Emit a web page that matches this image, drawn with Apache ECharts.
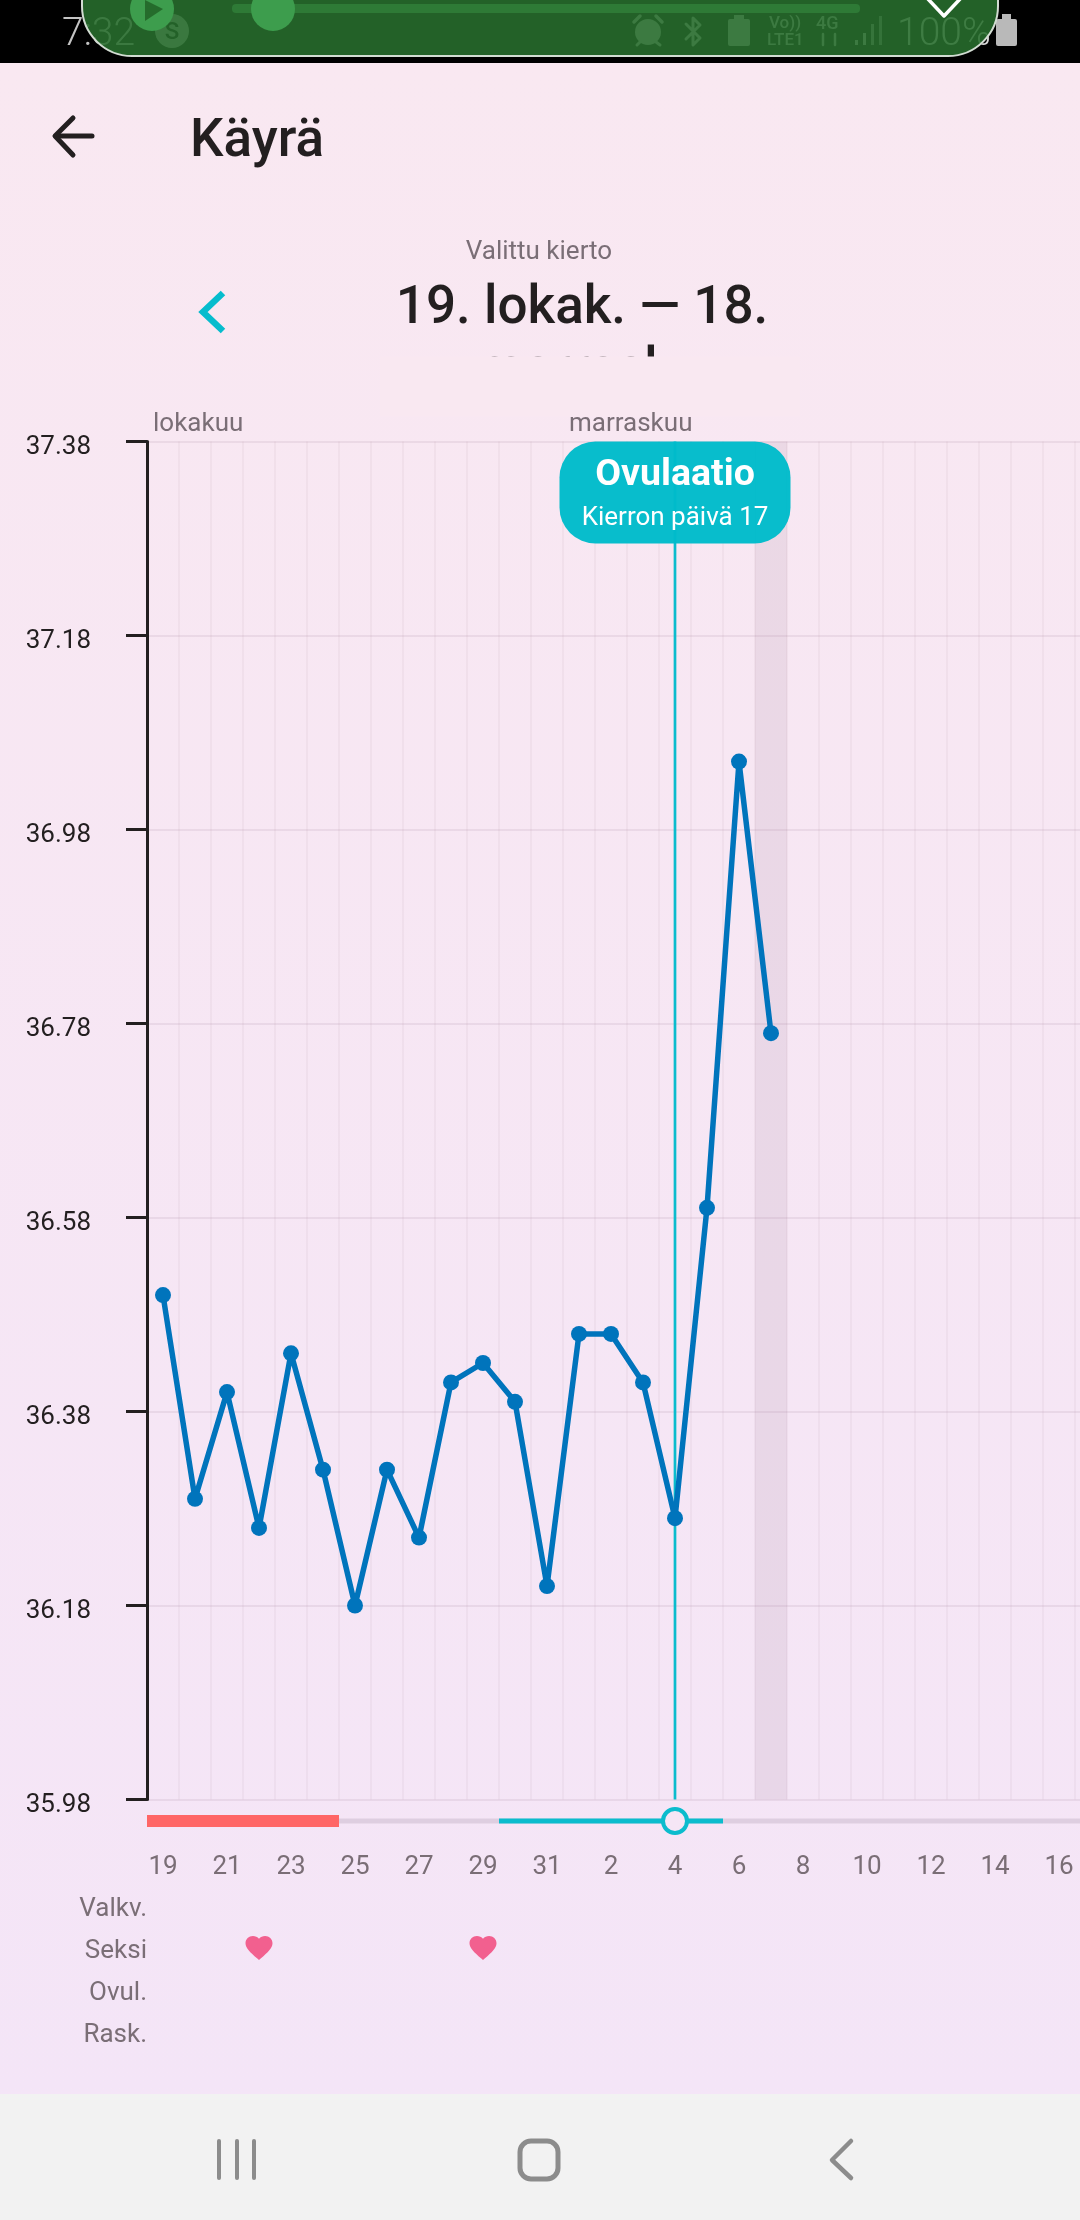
<!DOCTYPE html>
<html>
<head>
<meta charset="utf-8">
<style>
html,body{margin:0;padding:0;width:1080px;height:2220px;overflow:hidden;background:linear-gradient(#f9e8f1 0,#f9e8f1 63px,#f4e5f7 2094px)}
#c{width:1080px;height:2220px}
</style>
<script src="https://cdn.jsdelivr.net/npm/echarts@6/dist/echarts.min.js"></script>
</head>
<body>
<div id="c"></div>
<script>
const categories = ['19','20','21','22','23','24','25','26','27','28','29','30','31','1','2','3','4','5','6','7','8','9','10','11','12','13','14','15','16','17','18'];
const temperature = [36.50,36.29,36.40,36.26,36.44,36.32,36.18,36.32,36.25,36.41,36.43,36.39,36.20,36.46,36.46,36.41,36.27,36.59,37.05,36.77];
const yTicks = [35.98,36.18,36.38,36.58,36.78,36.98,37.18,37.38];
const rowLabels = ['Valkv.','Seksi','Ovul.','Rask.'];
const monthNames = ['lokakuu','marraskuu'];
const monthStarts = [0,13];
const periodDays = [0,1,2,3,4,5];
const fertileDays = [11,12,13,14,15,16,17];
const ovulationDay = 16;
const currentDay = 19;
const sexDays = [3,10];

const FONT = 'Roboto';
const GREY = '#7a6e76';
const INK = '#231f20';
const CYAN = '#0bbccd';
const HEART = 'path://M12 21.35l-1.45-1.32C5.4 15.36 2 12.28 2 8.5 2 5.42 4.42 3 7.5 3c1.74 0 3.41.81 4.5 2.09C13.09 3.81 14.76 3 16.5 3 19.58 3 22 5.42 22 8.5c0 3.78-3.4 6.86-8.55 11.54L12 21.35z';

function T(text,x,y,font,fill,align){return {type:'text',silent:true,style:{text,x,y,font:font+' '+FONT,fill,textAlign:align||'left',textVerticalAlign:'middle'}};}
function P(points,stroke,w,extra){return {type:'polyline',silent:true,shape:{points},style:Object.assign({stroke,lineWidth:w,fill:null,lineCap:'round',lineJoin:'round'},extra||{})};}
function R(x,y,width,height,fill,r,extra){return {type:'rect',silent:true,shape:{x,y,width,height,r:r||0},style:Object.assign({fill},extra||{})};}
function C(cx,cy,r,fill,extra){return {type:'circle',silent:true,shape:{cx,cy,r},style:Object.assign({fill},extra||{})};}

const DIM = '#c8c8c8';
const chrome = [
  R(0,0,1080,63,'#000'),
  T('7:32',62,35,'300 39px','#c4c4c4'),
  C(172,31,17,'#bdbdbd'),
  T('S',172,33,'500 24px','#000','center'),
  C(648,32,13,'#c8c8c8'),
  P([[634,22],[640,16]],DIM,3.5), P([[656,16],[662,22]],DIM,3.5),
  P([[637,45],[640,42]],DIM,3), P([[656,42],[660,45]],DIM,3),
  P([[686,24],[700,38],[693,45],[693,18],[700,25],[686,39]],DIM,3),
  R(728,19,22,27,DIM,2), R(734,15,10,5,DIM),
  T('Vo))',769,24,'500 17px',DIM),
  T('LTE1',767,41,'500 17px',DIM),
  T('4G',816,24,'500 18px',DIM),
  P([[823,34],[823,45]],DIM,2.5), P([[835,34],[835,45]],DIM,2.5),
  R(855,40,3,5,DIM), R(863,33,3,12,DIM), R(871,24,3,21,'#999'), R(879,16,3,29,'#888'),
  T('100%',897,35,'300 39px','#d8d8d8'),
  R(996,19,21,27,'#b9b9b9',2), R(1002,14,9,6,'#b9b9b9'),
  R(82,-60,916,116,'rgba(40,110,45,0.88)',[0,0,50,50],{stroke:'#d2dcd2',lineWidth:2}),
  R(232,4,628,9,'#2e7a36',4),
  C(152,9,22,'#3d9d4d'),
  {type:'polygon',silent:true,shape:{points:[[145,0],[163,9],[145,21]]},style:{fill:'#256c2c'}},
  C(273,9,22,'#3d9d4d'),
  P([[928,-1],[944,16],[960,-1]],'#fff',3.5),
  // header
  P([[56,136],[92,136]],INK,5), P([[73,118],[55,136],[73,155]],INK,5),
  T('Käyrä',190,143,'500 53px',INK),
  T('Valittu kierto',539,252,'400 26px',GREY,'center'),
  T('19. lokak. — 18.',582,310,'500 53px',INK,'center'),
  T('marrask.',582,372,'500 53px',INK,'center'),
  R(380,356.5,420,60,'#f9e8f1'),
  P([[223,293],[203,312],[223,331]],'#06bccd',6.5,{lineCap:'butt',lineJoin:'miter'}),
  // nav bar
  R(0,2094,1080,126,'#f2f2f2'),
  P([[219,2141],[219,2178]],'#8c8c8c',4), P([[237,2141],[237,2178]],'#8c8c8c',4), P([[254,2141],[254,2178]],'#8c8c8c',4),
  {type:'rect',silent:true,shape:{x:520,y:2141,width:38,height:38,r:11},style:{fill:null,stroke:'#8c8c8c',lineWidth:5}},
  P([[851,2141],[832,2160],[851,2178]],'#8c8c8c',4.5)
];

function bandRenderer(height,color){
  return function(params,api){
    const c = api.coord([api.value(0),api.value(1)]);
    const w = api.size([1,0])[0];
    return {type:'rect',shape:{x:c[0]-w/2,y:c[1]-height/2,width:w,height},style:{fill:color}};
  };
}
function shadeRenderer(params,api){
  const top = api.coord([api.value(0),yTicks[yTicks.length-1]]);
  const bot = api.coord([api.value(0),yTicks[0]]);
  const w = api.size([1,0])[0];
  return {type:'rect',shape:{x:top[0]-w/2,y:top[1],width:w,height:bot[1]-top[1]},style:{fill:'rgba(110,70,100,0.09)'}};
}
function bubbleRenderer(params,api){
  const c = api.coord([api.value(0),api.value(1)]);
  const W=231,H=102;
  return {type:'group',children:[
    {type:'rect',shape:{x:c[0]-W/2,y:c[1],width:W,height:H,r:36},style:{fill:'rgba(0,187,202,0.97)'}},
    {type:'text',style:{text:'Ovulaatio',x:c[0],y:c[1]+34,fill:'#fff',font:'700 37.5px '+FONT,textAlign:'center',textVerticalAlign:'middle'}},
    {type:'text',style:{text:'Kierron päivä 17',x:c[0],y:c[1]+77,fill:'#fff',font:'400 26px '+FONT,textAlign:'center',textVerticalAlign:'middle'}}
  ]};
}
function monthRenderer(params,api){
  const c = api.coord([api.value(0),yTicks[yTicks.length-1]]);
  const w = api.size([1,0])[0];
  return {type:'text',style:{text:monthNames[params.dataIndex],x:c[0]-w/2+6,y:c[1]-17,fill:GREY,font:'400 26px '+FONT,textAlign:'left',textVerticalAlign:'middle'}};
}

const chart = echarts.init(document.getElementById('c'),null,{width:1080,height:2220,renderer:'canvas'});
chart.setOption({
  animation:false,
  textStyle:{fontFamily:FONT},
  graphic:{elements:chrome},
  grid:[
    {left:147,top:441.5,width:992,height:1358,outerBoundsMode:'none'},
    {left:147,top:1815,width:992,height:12,outerBoundsMode:'none'},
    {left:147,top:1885,width:992,height:168,outerBoundsMode:'none'}
  ],
  xAxis:[
    {type:'category',gridIndex:0,data:categories,
      axisLine:{show:false},axisTick:{show:false},
      axisLabel:{interval:1,margin:55,fontSize:26,color:GREY,fontFamily:FONT},
      splitLine:{show:true,interval:0,lineStyle:{color:'rgba(110,70,100,0.05)',width:2}}},
    {type:'category',gridIndex:1,data:categories,show:false},
    {type:'category',gridIndex:2,data:categories,show:false}
  ],
  yAxis:[
    {type:'value',gridIndex:0,min:yTicks[0],max:yTicks[yTicks.length-1],
      axisLine:{show:true,onZero:false,lineStyle:{color:INK,width:3}},
      axisTick:{show:true,length:21,customValues:yTicks,lineStyle:{color:INK,width:3}},
      axisLabel:{customValues:yTicks,margin:56,fontSize:26,color:INK,fontFamily:FONT,verticalAlign:'top',lineHeight:26,padding:[-7,0,0,0],formatter:v=>Number(v).toFixed(2)},
      splitLine:{show:true,lineStyle:{color:'rgba(110,70,100,0.09)',width:2}}},
    {type:'value',gridIndex:1,min:0,max:1,show:false},
    {type:'category',gridIndex:2,data:rowLabels,inverse:true,
      axisLine:{show:false},axisTick:{show:false},splitLine:{show:false},
      axisLabel:{margin:0,fontSize:26,color:GREY,fontFamily:FONT,verticalAlign:'top',lineHeight:26,padding:[-10,0,0,0]}}
  ],
  series:[
    {type:'custom',name:'Nykyinen päivä',xAxisIndex:0,yAxisIndex:0,z:1,silent:true,renderItem:shadeRenderer,encode:{x:0,y:1},data:[[currentDay,yTicks[0]]]},
    {type:'line',name:'Ovulaatio',xAxisIndex:0,yAxisIndex:0,z:2,silent:true,symbol:'none',lineStyle:{color:CYAN,width:2.7},
      data:[[ovulationDay,yTicks[0]],[ovulationDay,yTicks[yTicks.length-1]]]},
    {type:'line',name:'Lämpötila',xAxisIndex:0,yAxisIndex:0,z:3,silent:true,symbol:'circle',symbolSize:16,showSymbol:true,showAllSymbol:true,
      lineStyle:{color:'#0074bc',width:5.5},itemStyle:{color:'#0074bc'},data:temperature},
    {type:'custom',name:'Kuukaudet',xAxisIndex:0,yAxisIndex:0,z:4,silent:true,clip:false,renderItem:monthRenderer,encode:{x:0,y:1},data:monthStarts.map(d=>[d,yTicks[yTicks.length-1]])},
    {type:'custom',name:'Ovulaatiokupla',xAxisIndex:0,yAxisIndex:0,z:5,silent:true,renderItem:bubbleRenderer,encode:{x:0,y:1},data:[[ovulationDay,yTicks[yTicks.length-1]]]},
    {type:'custom',name:'Kierto',xAxisIndex:1,yAxisIndex:1,z:1,silent:true,renderItem:bandRenderer(5,'#decee0'),encode:{x:0,y:1},data:categories.map((c,i)=>[i,0.5])},
    {type:'custom',name:'Kuukautiset',xAxisIndex:1,yAxisIndex:1,z:2,silent:true,renderItem:bandRenderer(12,'#ff6666'),encode:{x:0,y:1},data:periodDays.map(d=>[d,0.5])},
    {type:'custom',name:'Hedelmällinen',xAxisIndex:1,yAxisIndex:1,z:2,silent:true,renderItem:bandRenderer(5,CYAN),encode:{x:0,y:1},data:fertileDays.map(d=>[d,0.5])},
    {type:'scatter',name:'Ovulaatiopäivä',xAxisIndex:1,yAxisIndex:1,z:3,silent:true,symbol:'circle',symbolSize:24,clip:false,
      itemStyle:{color:'#f5e6f5',borderColor:CYAN,borderWidth:4,opacity:1},data:[[ovulationDay,0.5]]},
    {type:'scatter',name:'Seksi',xAxisIndex:2,yAxisIndex:2,z:3,silent:true,symbol:HEART,symbolSize:[27,24],
      itemStyle:{color:'#f2608f',opacity:1},data:sexDays.map(d=>[d,rowLabels[1]])}
  ]
});
</script>
</body>
</html>
